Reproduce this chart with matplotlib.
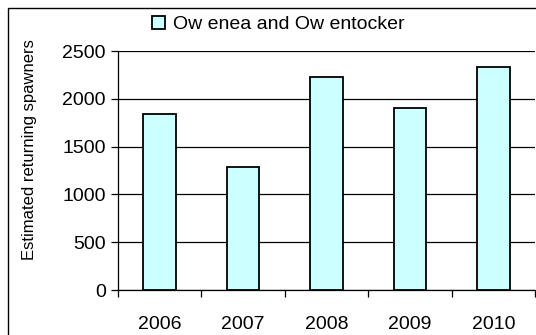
import numpy as np
import matplotlib.pyplot as plt
from matplotlib.patches import Rectangle

plt.rcParams['font.family'] = ['Liberation Sans', 'DejaVu Sans']

years = ['2006', '2007', '2008', '2009', '2010']
spawners = [1845, 1285, 2230, 1900, 2330]
series_name = 'Ow enea and Ow entocker'

fig = plt.figure(figsize=(5.36, 3.35), dpi=100)
ax = fig.add_axes([0.2196, 0.1343, 0.7786, 0.7134])

x = np.arange(len(years))
ax.bar(x, spawners, width=0.39, color='#CCFFFF', edgecolor='black',
       linewidth=1.3, label=series_name, zorder=3)

ax.set_xlim(-0.5, len(years) - 0.5)
ax.set_ylim(0, 2500)
ax.set_yticks(np.arange(0, 2501, 500))
ax.yaxis.grid(True, color='black', linewidth=0.9, zorder=0)
ax.set_xticks(x)
ax.set_xticklabels(years)
ax.set_xticks(np.arange(-0.5, len(years)), minor=True)
ax.tick_params(axis='x', which='major', length=0, pad=19, labelsize=14)
ax.tick_params(axis='x', which='minor', length=5, width=0.9, direction='out')
ax.tick_params(axis='y', length=5, width=0.9, labelsize=14, pad=3.5)

for s in ['top', 'right']:
    ax.spines[s].set_visible(False)
ax.spines['left'].set_linewidth(0.9)
ax.spines['bottom'].set_linewidth(0.9)

ax.set_ylabel('Estimated returning spawners', fontsize=12)
ax.yaxis.set_label_coords(-0.193, 0.586)

ax.legend(loc='center', bbox_to_anchor=(0.385, 1.112), frameon=False,
          fontsize=14, handlelength=0.65, handleheight=0.65,
          handletextpad=0.45, borderpad=0)

# outer chart border
fig.patches.append(Rectangle((8 / 536, -0.1), 1.2, 1 - 8 / 335 + 0.1,
                             transform=fig.transFigure, fill=False,
                             edgecolor='black', linewidth=1.0))

fig.savefig('out.png', dpi=100)
